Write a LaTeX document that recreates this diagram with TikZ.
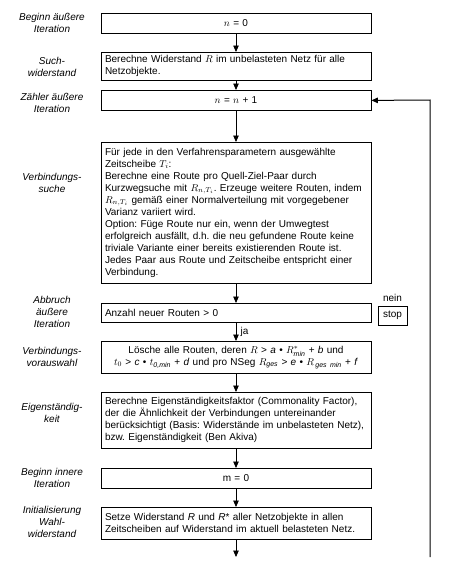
\documentclass[tikz,border=0pt]{standalone}
\usepackage{amsmath}
\usepackage{fontspec}
\setmainfont{Liberation Sans}
\usetikzlibrary{arrows.meta}
\frenchspacing
\tikzset{
  box/.style={draw=black, line width=0.8pt, inner xsep=4pt, inner ysep=2pt,
    text width=262pt, font=\fontsize{10}{12}\selectfont, anchor=north},
  lbox/.style={box, align=left},
  cbox/.style={box, align=center},
  side/.style={font=\fontsize{10}{12}\selectfont\itshape, align=center},
  arr/.style={line width=0.8pt, -{Triangle[width=5.5pt,length=6.5pt]}},
}
\begin{document}
\begin{tikzpicture}[x=1pt,y=-1pt]
\useasboundingbox (0,0) rectangle (454,576);
% boxes
\node[cbox, minimum height=20pt] (b1) at (236,13) {$n$ = 0};
\node[lbox, minimum height=28pt] (b2) at (236,52) {Berechne Widerstand $R$ im unbelasteten Netz für alle\\Netzobjekte.};
\node[cbox, minimum height=20pt] (b3) at (236,90) {$n$ = $n$ + 1};
\node[lbox, minimum height=141pt] (b4) at (236,142) {Für jede in den Verfahrensparametern ausgewählte\\Zeitscheibe $T_i$:\\Berechne eine Route pro Quell-Ziel-Paar durch\\Kurzwegsuche mit $R_{n,T_i}$. Erzeuge weitere Routen, indem\\$R_{n,T_i}$ gemäß einer Normalverteilung mit vorgegebener\\Varianz variiert wird.\\Option: Füge Route nur ein, wenn der Umwegtest\\erfolgreich ausfällt, d.h. die neu gefundene Route keine\\triviale Variante einer bereits existierenden Route ist.\\Jedes Paar aus Route und Zeitscheibe entspricht einer\\Verbindung.};
\node[lbox, minimum height=19pt] (b5) at (236,303) {Anzahl neuer Routen > 0};
\node[draw=black, line width=0.8pt, minimum width=29pt, minimum height=19pt, inner sep=2pt,
  font=\fontsize{10}{12}\selectfont] (stop) at (392.5,315.5) {stop};
\node[font=\fontsize{10}{12}\selectfont, anchor=south] (nein) at (stop.north) {nein};
\node[cbox, minimum height=32pt] (b6) at (236,341) {Lösche alle Routen, deren $R$ > \textit{a} • $R^*_{\textit{min}}$ + \textit{b} und\\$t_0$ > \textit{c} • $t_{\textit{0,min}}$ + \textit{d} und pro NSeg $R_{\textit{ges}}$ > \textit{e} • $R_{\,\textit{ges min}}$ + \textit{f}};
\node[lbox, minimum height=56pt] (b7) at (236,392) {Berechne Eigenständigkeitsfaktor (Commonality Factor),\\der die Ähnlichkeit der Verbindungen untereinander\\berücksichtigt (Basis: Widerstände im unbelasteten Netz),\\bzw. Eigenständigkeit (Ben Akiva)};
\node[cbox, minimum height=20pt] (b8) at (236,468) {m = 0};
\node[lbox, minimum height=32pt] (b9) at (236,507) {Setze Widerstand \textit{R} und \textit{R}* aller Netzobjekte in allen\\Zeitscheiben auf Widerstand im aktuell belasteten Netz.};
% side labels
\node[side] (l1) at (52,23) {Beginn äußere\\Iteration};
\node[side] (l2) at (52,67) {Such-\\widerstand};
\node[side] (l3) at (52,103) {Zähler äußere\\Iteration};
\node[side] (l4) at (52,183) {Verbindungs-\\suche};
\node[side] (l5) at (52,312) {Abbruch\\äußere\\Iteration};
\node[side] (l6) at (52,357) {Verbindungs-\\vorauswahl};
\node[side] (l7) at (52,413) {Eigenständig-\\keit};
\node[side] (l8) at (52,478) {Beginn innere\\Iteration};
\node[side] (l9) at (52,522) {Initialisierung\\Wahl-\\widerstand};
% connectors
\coordinate (end) at (236,557);
\coordinate (fb) at (430,557);
\coordinate (fbtop) at (430,100);
\draw[arr] (b1) -- (b2);
\draw[arr] (b2) -- (b3);
\draw[arr] (b3) -- (b4);
\draw[arr] (b4) -- (b5);
\draw[arr] (b5) -- node[right, font=\fontsize{10}{12}\selectfont, xshift=1pt] (ja) {ja} (b6);
\draw[arr] (b6) -- (b7);
\draw[arr] (b7) -- (b8);
\draw[arr] (b8) -- (b9);
\draw[arr] (b9) -- (end);
\draw[arr, line width=1pt] (fb) -- (fbtop) -- (b3.east);
\end{tikzpicture}
\end{document}
